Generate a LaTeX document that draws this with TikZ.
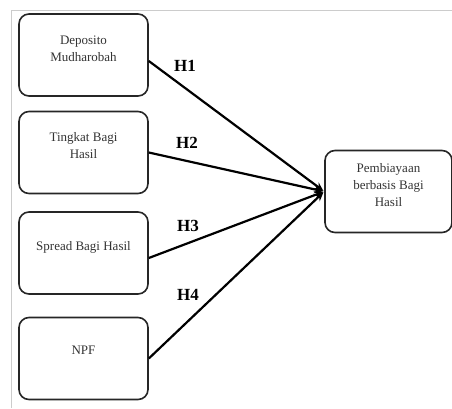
\documentclass[tikz,border=0pt]{standalone}
\usepackage{fontspec}
\setmainfont{Liberation Serif}
\usepackage{tikz}
\usetikzlibrary{arrows.meta}
\usetikzlibrary{positioning}
\tikzset{>=latex}
\tikzset{varbox/.style = {rectangle, rounded corners=10pt, draw=black!85, line width=1.6pt, minimum width=129pt, minimum height=82pt, inner sep=0pt}}
\tikzset{vartext/.style = {align=center, font=\fontsize{13}{17}\selectfont, text=black!80, inner sep=0pt}}
\tikzset{hyp/.style = {font=\fontsize{17}{20}\selectfont\bfseries, inner sep=0pt}}
\tikzset{link/.style = {-{Stealth[length=9pt, width=8pt]}, line width=2.2pt, shorten >=1pt}}

\begin{document}
\begin{tikzpicture}[x=1pt, y=-1pt]
\useasboundingbox (0,0) rectangle (452,408);
\draw [black!20, line width=1pt] (11,408) -- (11,10) -- (452,10);
\node [varbox] (dep) at (83.5, 55) {};
\node [varbox] (tbh) at (83.5, 152.5) {};
\node [varbox] (sbh) at (83.5, 253) {};
\node [varbox] (npf) at (83.5, 358.5) {};
\node [varbox, minimum width=127pt] (pbh) at (388.5, 191.5) {};
\node [vartext] (depT) at (83.5, 48.5) {Deposito\\Mudharobah};
\node [vartext] (tbhT) at (83.5, 145.5) {Tingkat Bagi\\Hasil};
\node [vartext] (sbhT) at (83.5, 247) {Spread Bagi Hasil};
\node [vartext] (npfT) at (83.5, 350) {NPF};
\node [vartext] (pbhT) at (388.5, 185.5) {Pembiayaan\\berbasis Bagi\\Hasil};
\node [hyp] (h1) at (185, 66) {H1};
\node [hyp] (h2) at (187, 143) {H2};
\node [hyp] (h3) at (188, 226) {H3};
\node [hyp] (h4) at (188, 295) {H4};
\draw [link] ([yshift=-6pt]dep.east) to (pbh.west);
\draw [link] (tbh.east) to (pbh.west);
\draw [link] ([yshift=-5pt]sbh.east) to (pbh.west);
\draw [link] (npf.east) to (pbh.west);
\end{tikzpicture}
\end{document}
